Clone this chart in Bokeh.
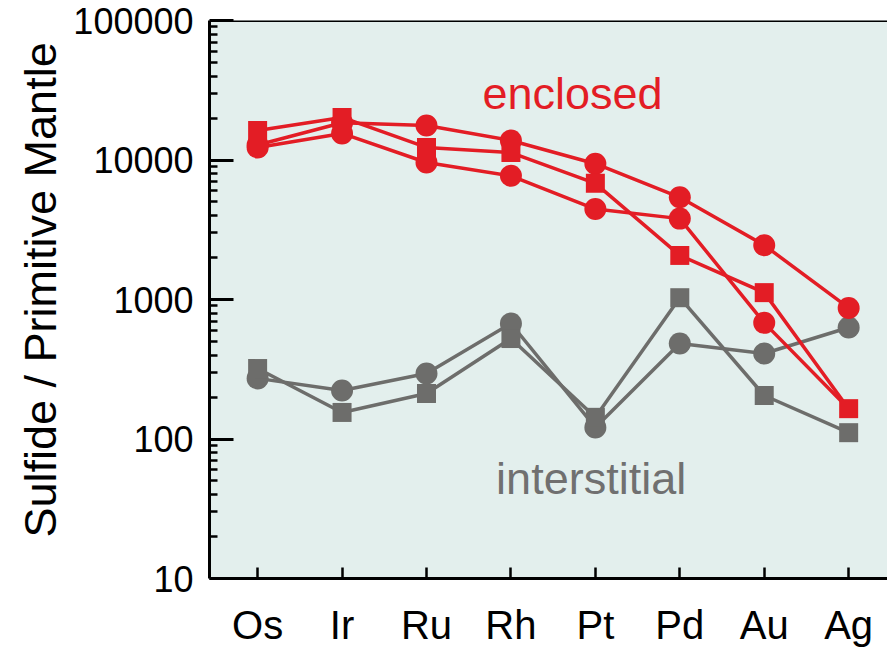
from bokeh.plotting import figure
from bokeh.models import Range1d, FixedTicker, NumeralTickFormatter, Label, Span, Title
from bokeh.embed import file_html
from bokeh.resources import INLINE

elements = ["Os", "Ir", "Ru", "Rh", "Pt", "Pd", "Au", "Ag"]
enclosed_circle_a = [12800, 18500, 17700, 13800, 9400, 5400, 2450, 870]
enclosed_square = [16300, 20200, 12300, 11300, 6800, 2070, 1120, 165]
enclosed_circle_b = [12300, 15500, 9600, 7700, 4450, 3800, 680, 165]
interstitial_square = [320, 155, 212, 525, 143, 1030, 205, 111]
interstitial_circle = [272, 223, 295, 673, 121, 484, 410, 630]
y_ticks = [10, 100, 1000, 10000, 100000]

RED = "#e31d25"
GREY = "#6d6d6b"
FONT = "Liberation Sans"

x = list(range(len(elements)))

p = figure(width=887, height=649, output_backend="svg", toolbar_location=None,
           y_axis_type="log",
           x_range=Range1d(-0.57, len(elements) - 0.54),
           y_range=Range1d(y_ticks[0], y_ticks[-1]),
           min_border_left=209, min_border_right=0, min_border_top=20, min_border_bottom=71)

p.background_fill_color = "#e3efed"
p.border_fill_color = "white"
p.outline_line_color = None
p.grid.grid_line_color = None

# top border
p.add_layout(Span(location=y_ticks[-1], dimension="width", line_color="black", line_width=3))

minor = [m * t for t in y_ticks[:-1] for m in range(2, 10)]

# y axis
ya = p.yaxis[0]
ya.ticker = FixedTicker(ticks=y_ticks, minor_ticks=minor)
ya.formatter = NumeralTickFormatter(format="0")
ya.axis_line_width = 3
ya.axis_line_color = "black"
ya.major_tick_in = 24
ya.major_tick_out = 0
ya.major_tick_line_width = 3
ya.minor_tick_in = 8
ya.minor_tick_out = 0
ya.minor_tick_line_width = 2.5
ya.major_label_text_font = FONT
ya.major_label_text_font_size = "36px"
ya.major_label_text_color = "black"
ya.major_label_standoff = 16

# y axis title, placed as a side title so its start can be positioned
p.add_layout(Title(text="Sulfide / Primitive Mantle", align="left", offset=41,
                   standoff=9, text_font=FONT, text_font_size="45px",
                   text_font_style="normal", text_color="black"), "left")

# x axis
xa = p.xaxis[0]
xa.ticker = FixedTicker(ticks=x)
xa.major_label_overrides = {i: e for i, e in enumerate(elements)}
xa.axis_line_width = 3
xa.axis_line_color = "black"
xa.major_tick_in = 11
xa.major_tick_out = 0
xa.major_tick_line_width = 2.5
xa.minor_tick_line_color = None
xa.major_label_text_font = FONT
xa.major_label_text_font_size = "40px"
xa.major_label_text_color = "black"
xa.major_label_standoff = 24

LW = 3.5

# interstitial (grey)
p.line(x, interstitial_circle, line_color=GREY, line_width=LW)
p.line(x, interstitial_square, line_color=GREY, line_width=LW)
p.scatter(x, interstitial_circle, marker="circle", size=22, fill_color=GREY, line_color=None)
p.scatter(x, interstitial_square, marker="square", size=19, fill_color=GREY, line_color=None)

# enclosed (red)
p.line(x, enclosed_circle_a, line_color=RED, line_width=LW)
p.line(x, enclosed_circle_b, line_color=RED, line_width=LW)
p.line(x, enclosed_square, line_color=RED, line_width=LW)
p.scatter(x, enclosed_circle_a, marker="circle", size=22, fill_color=RED, line_color=None)
# the last point of this series is hidden under the square marker in the reference
p.scatter(x[:-1], enclosed_circle_b[:-1], marker="circle", size=22, fill_color=RED, line_color=None)
p.scatter(x, enclosed_square, marker="square", size=19, fill_color=RED, line_color=None)

p.add_layout(Label(x=3.73, y=29900, text="enclosed", text_align="center",
                   text_baseline="alphabetic", text_font=FONT, text_font_size="45px",
                   text_color=RED))
p.add_layout(Label(x=3.95, y=52, text="interstitial", text_align="center",
                   text_baseline="alphabetic", text_font=FONT, text_font_size="45px",
                   text_color="#707070"))

open("out.html", "w").write(file_html(p, INLINE))
